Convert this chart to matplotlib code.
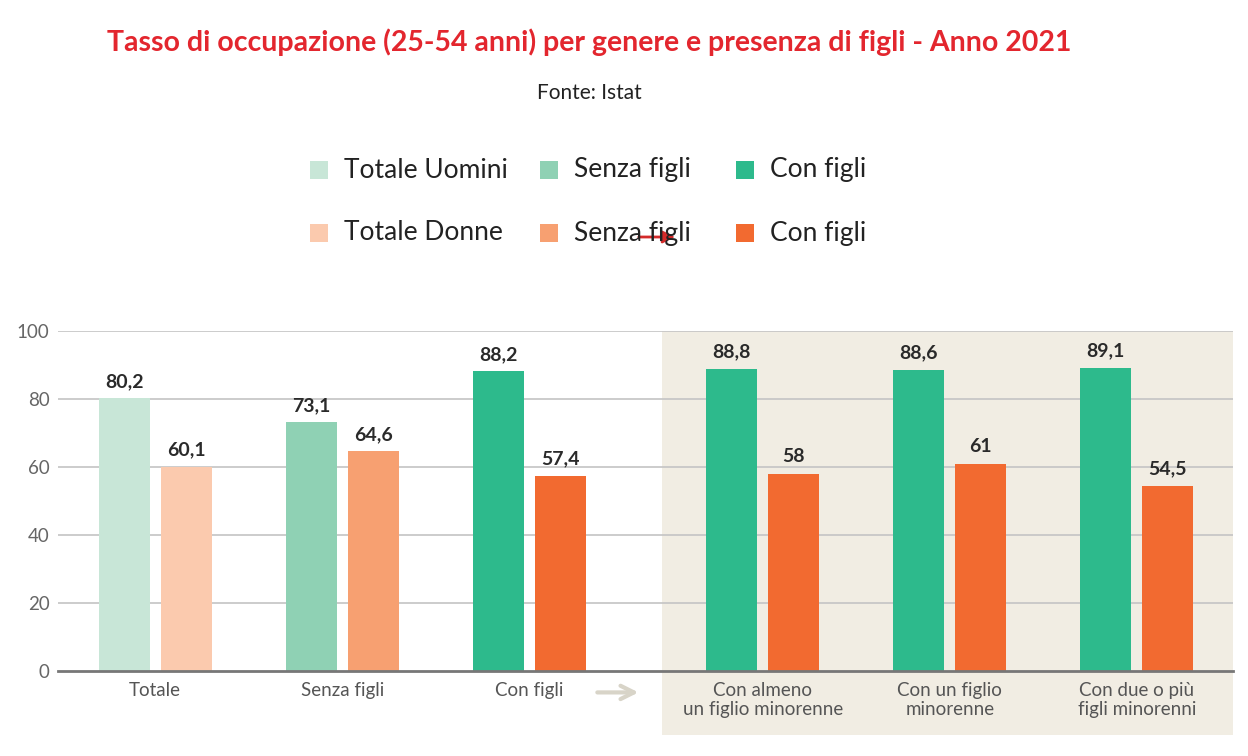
import matplotlib
matplotlib.use("Agg")
import matplotlib.pyplot as plt
import matplotlib.transforms as mtransforms
from matplotlib.patches import Rectangle, FancyArrowPatch
import numpy as np

# data
categories = ["Totale", "Senza figli", "Con figli",
              "Con almeno\nun figlio minorenne", "Con un figlio\nminorenne",
              "Con due o più\nfigli minorenni"]
uomini = [80.2, 73.1, 88.2, 88.8, 88.6, 89.1]
donne = [60.1, 64.6, 57.4, 58, 61, 54.5]
y_ticks = [0, 20, 40, 60, 80, 100]

legend_uomini = ["Totale Uomini", "Senza figli", "Con figli"]
legend_donne = ["Totale Donne", "Senza figli", "Con figli"]

# colours
green = ["#c8e6d7", "#8fd1b4", "#2dba8c"]
orange = ["#fbcaae", "#f7a071", "#f26a30"]
men_colors = [green[0], green[1], green[2], green[2], green[2], green[2]]
women_colors = [orange[0], orange[1], orange[2], orange[2], orange[2], orange[2]]
beige = "#f1ede3"

plt.rcParams['font.family'] = ['Lato', 'DejaVu Sans']

W, H = 1248, 756
fig = plt.figure(figsize=(W / 100, H / 100), dpi=100)

def fx(px):
    return px / W

def fy(py):
    return 1 - py / H

ax = fig.add_axes([fx(58), fy(671), fx(1233) - fx(58), fy(331) - fy(671)])

# group positions (extra gap before the detail groups)
x = np.array([0, 1, 2, 3.25, 4.25, 5.25])
width = 0.273
off = 0.166

ax.set_xlim(-0.52, 5.765)
ax.set_ylim(0, 100)

# beige box for the detail groups, extending under the tick labels
trans = mtransforms.blended_transform_factory(ax.transData, ax.transAxes)
ax.add_patch(Rectangle((2.71, -0.188), 5.765 - 2.71, 1.188, transform=trans,
                       facecolor=beige, edgecolor='none', zorder=0, clip_on=False))

for yv in y_ticks[1:]:
    ax.axhline(yv, color="#c4c4c4", linewidth=1.2, zorder=1)

b1 = ax.bar(x - off, uomini, width, color=men_colors, zorder=2)
b2 = ax.bar(x + off, donne, width, color=women_colors, zorder=2)

def fmt(v):
    return f"{v:g}".replace('.', ',')

for rects, vals in [(b1, uomini), (b2, donne)]:
    for rect, v in zip(rects, vals):
        ax.annotate(fmt(v), xy=(rect.get_x() + rect.get_width() / 2, v),
                    xytext=(0, 6), textcoords="offset points",
                    ha='center', va='bottom', fontsize=14,
                    fontweight='bold', color="#2a2a2a")

for s in ['top', 'right', 'left']:
    ax.spines[s].set_visible(False)
ax.spines['bottom'].set_color("#777777")
ax.spines['bottom'].set_linewidth(2)
ax.spines['bottom'].set_zorder(3)

ax.set_yticks(y_ticks)
ax.set_yticklabels([str(t) for t in y_ticks], fontsize=13.5, color="#666666")
ax.tick_params(axis='y', length=0, pad=6)
ax.set_xticks(x)
ax.set_xticklabels(categories, fontsize=13.5, color="#555555", linespacing=1.1)
ax.tick_params(axis='x', length=0, pad=8)

# grey arrow between the groups
ax.annotate("", xy=(2.6, -0.063), xytext=(2.35, -0.063), xycoords=trans,
            arrowprops=dict(arrowstyle="->", color="#d8d4c8", lw=3,
                            mutation_scale=24), annotation_clip=False)

# title and source
fig.text(fx(589), fy(42), "Tasso di occupazione (25-54 anni) per genere e presenza di figli - Anno 2021",
         ha='center', va='center', fontsize=20.5, fontweight='bold', color="#e3262e")
fig.text(fx(589), fy(93), "Fonte: Istat", ha='center', va='center',
         fontsize=15, color="#222222")

# legend
sq = 18
col_x = [310, 540, 736]
row_y = [170, 233]
for r, (labels, colors) in enumerate([(legend_uomini, green), (legend_donne, orange)]):
    for c in range(3):
        fig.patches.append(Rectangle((fx(col_x[c]), fy(row_y[r] + sq / 2)), sq / W, sq / H,
                                     transform=fig.transFigure, facecolor=colors[c],
                                     edgecolor='none'))
        fig.text(fx(col_x[c] + 34), fy(row_y[r]), labels[c], ha='left', va='center',
                 fontsize=19, color="#222222")

# red arrow over the legend
fig.patches.append(FancyArrowPatch((fx(636), fy(237)), (fx(678), fy(237)),
                                   transform=fig.transFigure, arrowstyle='-|>',
                                   mutation_scale=18, color="#d42a2a", lw=2))

fig.savefig("out.png", dpi=100)
